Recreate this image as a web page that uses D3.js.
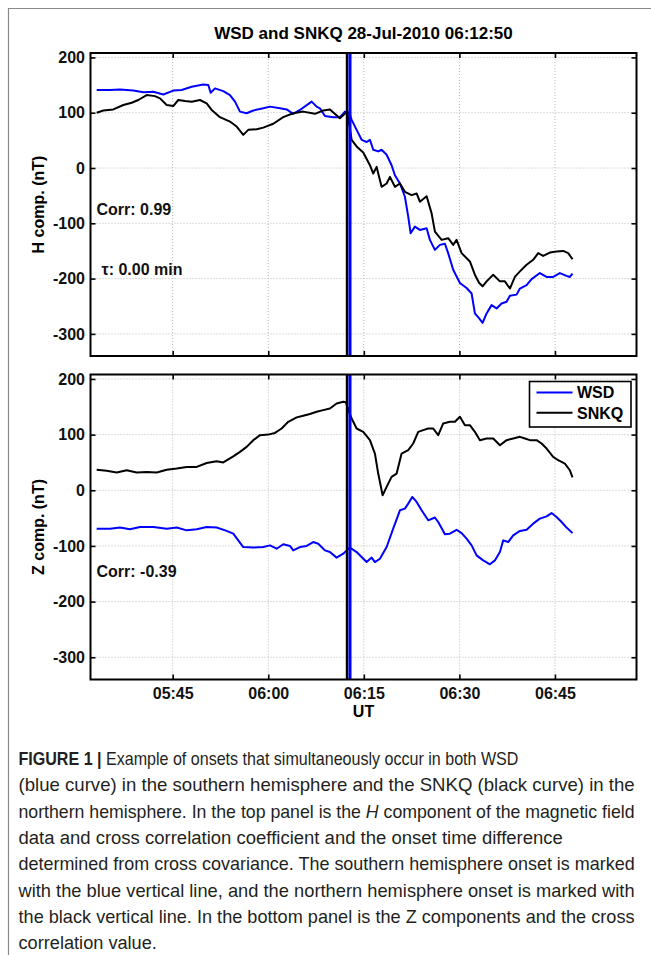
<!DOCTYPE html>
<html>
<head>
<meta charset="utf-8">
<script src="https://cdn.jsdelivr.net/npm/d3@7/dist/d3.min.js"></script>
<style>
  html, body { margin: 0; padding: 0; background: #fff; }
  svg { display: block; }
</style>
</head>
<body>
<svg id="fig" width="651" height="955"></svg>
<script>
// ---- Data: sample times are minutes after 05:30 UT on 28-Jul-2010 ----
const tHWsd = [3.07,5.16,6.73,8.82,10.39,11.96,13.53,15.09,16.41,17.98,19.8,20.59,20.96,21.64,22.94,23.99,24.78,25.56,26.61,27.65,29.22,30.27,31.84,32.89,33.92,34.97,36.81,37.6,38.1,38.9,40.2,41.25,42.04,42.71,43.09,43.87,44.66,45.44,45.96,46.48,47.26,47.79,48.58,49.36,49.88,50.67,51.45,51.97,52.35,53.02,53.8,54.86,55.37,56.16,56.94,57.73,58.24,59.03,60.08,61.13,61.92,62.43,63.11,63.64,64.27,65.05,65.84,66.62,67.41,67.93,68.98,69.5,70.55,71.33,72.63,73.69,74.72,75.77,76.82,77.34,77.76];
const hWsd = [141,141,142,140,137,138,133,140,141,147,151,150,136,144,139,132,120,102,99,104,108,111,108,106,98,105,120,111,108,94,92,92,102,100,87,69,51,47,51,33,30,33,24,5,-13,-28,-52,-88,-118,-106,-112,-109,-130,-148,-139,-137,-154,-184,-208,-217,-227,-263,-272,-280,-263,-248,-254,-245,-242,-231,-229,-218,-212,-201,-190,-197,-197,-190,-195,-197,-191];

const tHSnkq = [3.07,4.11,5.68,7.25,8.57,9.6,10.92,12.22,13.01,14.06,15.09,15.88,16.93,17.98,19.28,20.33,21.12,22.42,23.99,25.04,26.08,26.86,28.18,29.22,30.79,32.35,33.92,35.49,37.33,38.63,39.68,41.25,42.4,43.09,43.87,44.91,45.96,46.48,47.01,47.79,48.58,49.1,49.88,50.67,51.45,52.5,53.29,53.8,54.86,55.64,56.16,57.21,58.24,59.03,59.56,60.35,61.65,62.43,63.11,63.64,64.27,65.31,66.36,67.14,67.93,68.71,69.5,70.55,71.58,72.37,73.15,74.2,75.25,76.29,77.08,77.76];
const hSnkq = [100,104,106,114,118,123,132,130,126,114,112,123,121,120,123,117,105,92,84,75,60,69,70,73,80,92,99,102,98,104,106,90,102,51,39,28,5,-10,2,-34,-28,-16,-34,-28,-43,-49,-46,-61,-51,-82,-115,-130,-127,-139,-130,-154,-169,-193,-208,-214,-205,-193,-205,-205,-218,-197,-187,-175,-166,-154,-159,-153,-151,-150,-154,-165];

const tZWsd = [3.07,5.16,6.73,8.3,9.87,11.96,14.06,15.63,17.2,18.77,20.33,21.9,23.47,24.51,25.29,26.08,27.65,29.22,30.27,31.32,32.35,33.41,33.92,34.97,36.03,37.06,37.85,38.9,39.68,40.73,41.77,42.82,43.87,45.44,46.23,46.74,47.53,48.58,49.61,50.67,51.45,51.97,52.6,53.29,54.07,55.11,56.16,56.68,57.73,58.51,59.56,60.35,61.13,61.92,62.7,63.74,64.79,65.57,66.36,66.88,67.66,68.45,69.5,70.55,71.58,72.63,73.69,74.47,75.25,76.04,76.82,77.76];
const zWsd = [-69,-69,-67,-70,-66,-66,-69,-67,-72,-70,-66,-67,-73,-78,-90,-102,-103,-102,-99,-105,-97,-100,-108,-102,-100,-93,-96,-108,-111,-121,-114,-103,-111,-129,-121,-129,-123,-102,-69,-36,-33,-24,-12,-21,-36,-54,-49,-57,-79,-78,-71,-77,-87,-99,-117,-126,-133,-126,-111,-90,-93,-81,-73,-71,-60,-51,-47,-41,-48,-57,-67,-77];

const tZSnkq = [3.07,4.64,6.21,7.78,9.35,10.92,12.49,14.06,15.63,17.2,18.77,20.33,21.9,22.94,24.51,25.56,26.61,27.65,28.7,30,31.05,32.1,33.14,34.46,35.49,36.54,37.6,38.63,39.68,40.73,41.77,42.19,42.71,43.09,43.87,44.91,45.96,46.74,47.26,47.95,48.58,49.36,50.15,50.93,51.97,52.75,53.54,54.32,55.11,55.89,56.68,57.46,58.51,59.3,60.08,60.87,61.65,62.43,63.22,64.27,65.31,66.36,67.41,68.45,69.5,70.28,71.07,72.12,72.9,73.69,74.72,75.51,76.56,77.34,77.76];
const zSnkq = [37,35,32,36,32,33,32,37,39,42,42,49,52,50,61,69,78,90,99,100,103,111,123,131,134,137,141,144,147,156,159,158,140,129,111,105,90,66,30,-9,6,24,30,66,72,84,105,108,111,111,99,120,123,123,132,117,117,105,90,93,93,81,90,93,96,93,90,90,84,75,60,54,48,36,23];

const yTicks = [200, 100, 0, -100, -200, -300];
const xTickLabels = ["05:45", "06:00", "06:15", "06:30", "06:45"];
const stations = ["WSD", "SNKQ"];
const stationColors = ["#0000ff", "#000000"];
const onsetSouth = "06:12:50";
const onsetNorth = "06:12:22";
const corrH = "0.99", tauH = "0.00", corrZ = "-0.39";

const captionLines = [
  [["FIGURE 1 |", "b"], [" Example of onsets that simultaneously occur in both WSD", ""]],
  [["(blue curve) in the southern hemisphere and the SNKQ (black curve) in the", ""]],
  [["northern hemisphere. In the top panel is the ", ""], ["H", "i"], [" component of the magnetic field", ""]],
  [["data and cross correlation coefficient and the onset time difference", ""]],
  [["determined from cross covariance. The southern hemisphere onset is marked", ""]],
  [["with the blue vertical line, and the northern hemisphere onset is marked with", ""]],
  [["the black vertical line. In the bottom panel is the Z components and the cross", ""]],
  [["correlation value.", ""]]
];
const captionEnds = [519, 635, 635, 563, 635, 635, 635, 157];

// ---- helpers ----
const BASE = Date.UTC(2010, 6, 28, 5, 30, 0);
const toDate = m => new Date(BASE + m * 60000);
const hms = s => {
  const p = s.split(":").map(Number);
  return (p[0] - 5) * 60 + (p[1] - 30) + (p[2] || 0) / 60;
};
const zip = (ts, vs) => ts.map((t, i) => ({ t: toDate(t), v: vs[i] }));

const FONT = "'Liberation Sans', Arial, Helvetica, sans-serif";
const svg = d3.select("#fig");

// outer frame of the figure
svg.append("path")
  .attr("d", "M8.5,955 V8.5 H651")
  .attr("fill", "none").attr("stroke", "#8a8a8a").attr("stroke-width", 1.2);

const left = 90.5, right = 636.5;
const x = d3.scaleUtc()
  .domain([toDate(2.1), toDate(87.8)])
  .range([left, right]);
const xTickDates = xTickLabels.map(s => toDate(hms(s + ":00")));

// title
svg.append("text")
  .attr("x", (left + right) / 2).attr("y", 38.5)
  .attr("text-anchor", "middle")
  .attr("font-family", FONT).attr("font-weight", "bold").attr("font-size", 17)
  .text(`${stations[0]} and ${stations[1]} 28-Jul-2010 ${onsetSouth}`);

function panel(top, bottom, series, label, notes, showX, legend) {
  const y = d3.scaleLinear().domain([-340, 208]).range([bottom, top]);
  const g = svg.append("g");

  // dotted grid
  g.append("g").selectAll("line").data(yTicks).join("line")
    .attr("x1", left).attr("x2", right)
    .attr("y1", d => y(d)).attr("y2", d => y(d))
    .attr("stroke", "#b8b8b8").attr("stroke-width", 1).attr("stroke-dasharray", "1,2");
  g.append("g").selectAll("line").data(xTickDates).join("line")
    .attr("x1", d => x(d)).attr("x2", d => x(d))
    .attr("y1", top).attr("y2", bottom)
    .attr("stroke", "#b8b8b8").attr("stroke-width", 1).attr("stroke-dasharray", "1,2");

  // series
  const line = d3.line().x(d => x(d.t)).y(d => y(d.v));
  series.forEach((s, i) => {
    g.append("path").datum(s)
      .attr("d", line)
      .attr("fill", "none")
      .attr("stroke", stationColors[i])
      .attr("stroke-width", 2)
      .attr("stroke-linejoin", "round");
  });

  // onset markers: northern (black) and southern (blue)
  g.append("line")
    .attr("x1", x(toDate(hms(onsetNorth)))).attr("x2", x(toDate(hms(onsetNorth))))
    .attr("y1", top).attr("y2", bottom)
    .attr("stroke", stationColors[1]).attr("stroke-width", 2.5);
  g.append("line")
    .attr("x1", x(toDate(hms(onsetSouth)))).attr("x2", x(toDate(hms(onsetSouth))))
    .attr("y1", top).attr("y2", bottom)
    .attr("stroke", stationColors[0]).attr("stroke-width", 3);

  // axes with inward ticks on all four sides
  const axL = d3.axisLeft(y).tickValues(yTicks).tickSizeInner(-5).tickSizeOuter(0)
    .tickPadding(5.5).tickFormat(d => String(d));
  const axR = d3.axisRight(y).tickValues(yTicks).tickSizeInner(-5).tickSizeOuter(0).tickFormat("");
  const axB = d3.axisBottom(x).tickValues(xTickDates).tickSizeInner(-5).tickSizeOuter(0)
    .tickPadding(8.5).tickFormat(showX ? d3.utcFormat("%H:%M") : "");
  const axT = d3.axisTop(x).tickValues(xTickDates).tickSizeInner(-5).tickSizeOuter(0).tickFormat("");

  const style = sel => {
    sel.select(".domain").remove();
    sel.selectAll(".tick line").attr("stroke", "#000").attr("stroke-width", 1.6);
    sel.selectAll(".tick text").attr("fill", "#111")
      .attr("font-family", FONT).attr("font-weight", "bold").attr("font-size", 16);
  };
  g.append("g").attr("transform", `translate(${left},0)`).call(axL).call(style);
  g.append("g").attr("transform", `translate(${right},0)`).call(axR).call(style);
  g.append("g").attr("transform", `translate(0,${bottom})`).call(axB).call(style);
  g.append("g").attr("transform", `translate(0,${top})`).call(axT).call(style);

  g.append("rect")
    .attr("x", left).attr("y", top).attr("width", right - left).attr("height", bottom - top)
    .attr("fill", "none").attr("stroke", "#000").attr("stroke-width", 2);

  // y label
  g.append("text")
    .attr("transform", `translate(44,${(top + bottom) / 2}) rotate(-90)`)
    .attr("text-anchor", "middle")
    .attr("font-family", FONT).attr("font-weight", "bold").attr("font-size", 16)
    .text(label);

  // annotations
  notes.forEach(n => {
    g.append("text")
      .attr("x", n.x).attr("y", y(n.v))
      .attr("dy", "0.35em")
      .attr("font-family", FONT).attr("font-weight", "bold").attr("font-size", 16)
      .attr("fill", "#111")
      .text(n.text);
  });

  if (legend) {
    const lg = g.append("g");
    lg.append("rect").attr("x", 529.5).attr("y", 381.5).attr("width", 101.5).attr("height", 45.5)
      .attr("fill", "#fff").attr("stroke", "#000").attr("stroke-width", 1.6);
    stations.forEach((s, i) => {
      const ly = 392.5 + i * 20.3;
      lg.append("line").attr("x1", 536.5).attr("x2", 572.5).attr("y1", ly).attr("y2", ly)
        .attr("stroke", stationColors[i]).attr("stroke-width", 2);
      lg.append("text").attr("x", 577).attr("y", ly).attr("dy", "0.36em")
        .attr("font-family", FONT).attr("font-weight", "bold").attr("font-size", 16)
        .text(s);
    });
  }
  return y;
}

panel(53, 356,
  [zip(tHWsd, hWsd), zip(tHSnkq, hSnkq)],
  "H comp. (nT)",
  [{ x: 96.5, v: -74, text: `Corr: ${corrH}` }, { x: 101.5, v: -184, text: `\u03c4: ${tauH} min` }],
  false, false);

panel(374.5, 679.5,
  [zip(tZWsd, zWsd), zip(tZSnkq, zSnkq)],
  "Z comp. (nT)",
  [{ x: 96.5, v: -145, text: `Corr: ${corrZ}` }],
  true, true);

// x axis title
svg.append("text")
  .attr("x", (left + right) / 2).attr("y", 716.5)
  .attr("text-anchor", "middle")
  .attr("font-family", FONT).attr("font-weight", "bold").attr("font-size", 16)
  .text("UT");

// caption: each line is fitted horizontally to its measured extent
const capX = 18.5;
const cap = svg.append("g").attr("fill", "#231f20")
  .attr("font-family", FONT).attr("font-size", 18);
captionLines.forEach((parts, i) => {
  const yLine = 765 + i * 26.3;
  const t = cap.append("text").attr("x", 0).attr("y", 0);
  parts.forEach(([s, f]) => {
    const ts = t.append("tspan").text(s);
    if (f === "b") ts.attr("font-weight", "bold");
    if (f === "i") ts.attr("font-style", "italic");
  });
  const w = t.node().getComputedTextLength();
  const sx = (captionEnds[i] - capX) / w;
  t.attr("transform", `translate(${capX},${yLine}) scale(${sx},1)`);
});
</script>
</body>
</html>
